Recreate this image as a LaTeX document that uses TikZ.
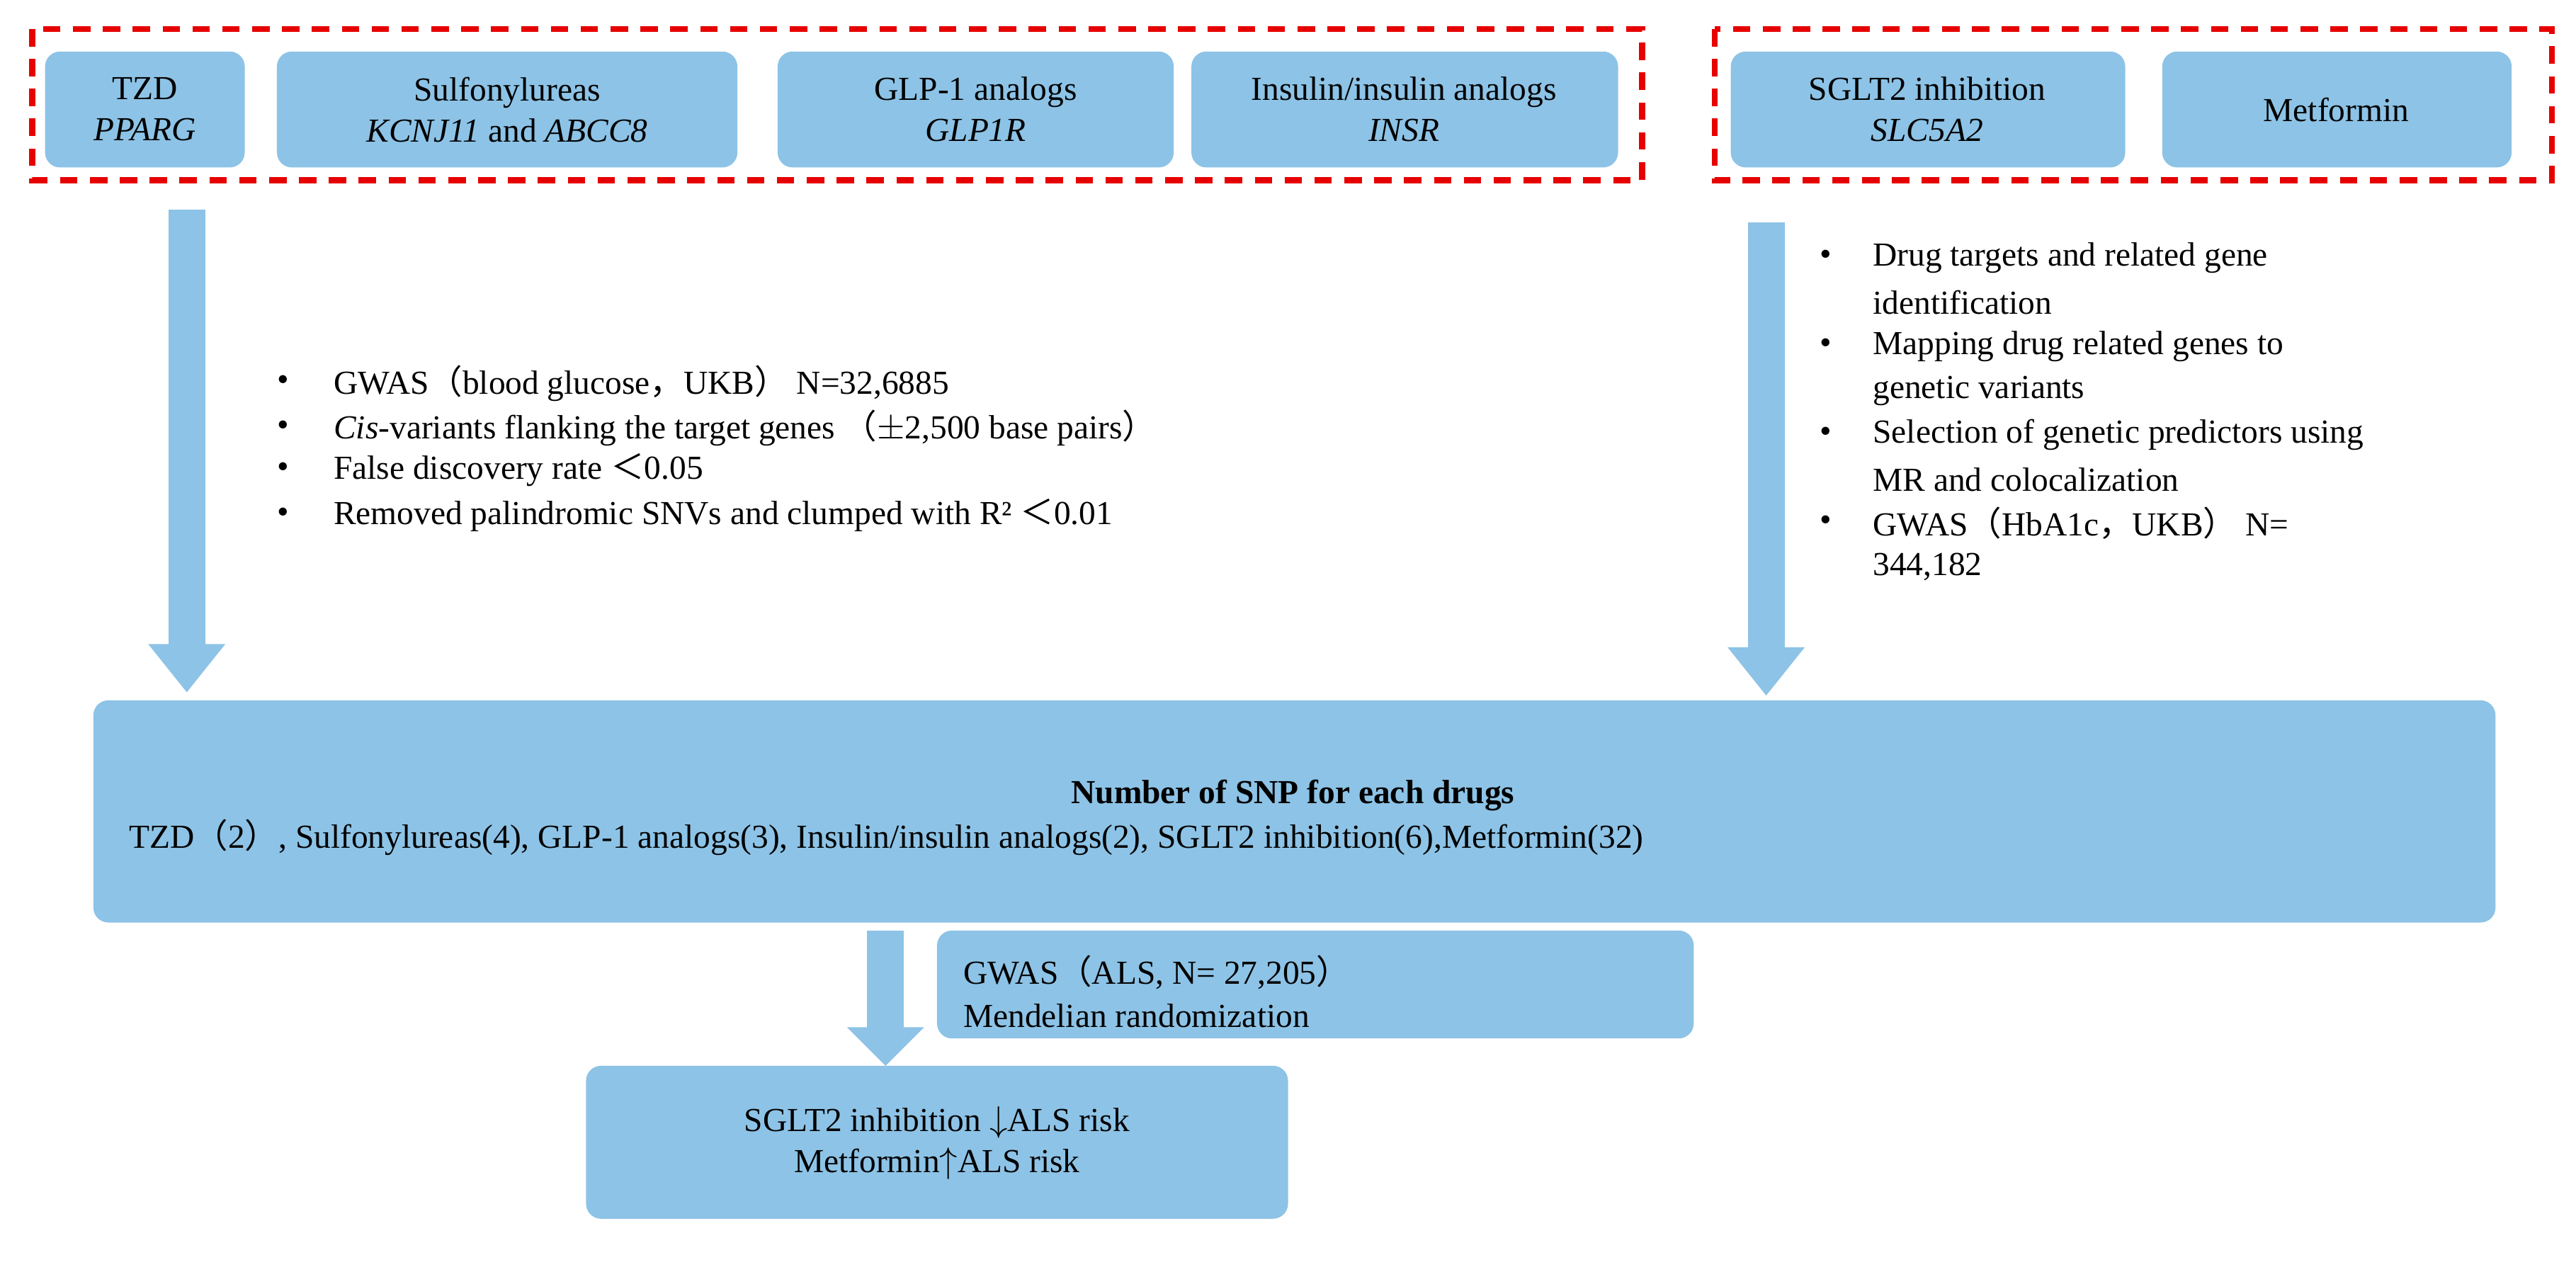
\documentclass[tikz,border=0pt]{standalone}
\usepackage{fontspec}
\setmainfont{Liberation Serif}
\newfontfamily\cjk{Noto Sans CJK SC}
\usetikzlibrary{positioning}
\definecolor{boxblue}{RGB}{141,195,230}
\definecolor{dashred}{RGB}{230,0,0}
\newcommand{\fw}[1]{{\cjk #1}}
\begin{document}
\begin{tikzpicture}[x=0.02273cm,y=-0.02273cm,font=\rmfamily\fontsize{13.5}{16.5}\selectfont,
    drug/.style={fill=boxblue,draw=none,rounded corners=6pt},
    lbl/.style={align=center},
    group/.style={draw=dashred,line width=2.5pt,dash pattern=on 7pt off 5pt},
    flow/.style={boxblue,line width=0.52cm},
    head/.style={fill=boxblue,draw=none}]
    \useasboundingbox (0,0) rectangle (1600,790);
    % drug groups
    \draw[group] (20,18) rectangle (1020,112);
    \draw[group] (1065,18) rectangle (1585,112);
    \path[drug] (28,32) rectangle (152,104);
    \node[lbl] (TZD) at (90,68) {TZD\\\textit{PPARG}};
    \path[drug] (172,32) rectangle (458,104);
    \node[lbl] (SU) at (315,68) {Sulfonylureas\\\textit{KCNJ11} and \textit{ABCC8}};
    \path[drug] (483,32) rectangle (729,104);
    \node[lbl] (GLP) at (606,68) {GLP-1 analogs\\\textit{GLP1R}};
    \path[drug] (740,32) rectangle (1005,104);
    \node[lbl] (INS) at (872,68) {Insulin/insulin analogs\\\textit{INSR}};
    \path[drug] (1075,32) rectangle (1320,104);
    \node[lbl] (SGLT) at (1197,68) {SGLT2 inhibition\\\textit{SLC5A2}};
    \path[drug] (1343,32) rectangle (1560,104);
    \node[lbl] (MET) at (1451,68) {Metformin};
    % arrows
    \coordinate (L1) at (116,130); \coordinate (L2) at (116,402);
    \draw[flow] (L1) -- (L2);
    \path[head] (92,400) -- (140,400) -- (116,430) -- cycle;
    \coordinate (R1) at (1097,138); \coordinate (R2) at (1097,404);
    \draw[flow] (R1) -- (R2);
    \path[head] (1073,402) -- (1121,402) -- (1097,432) -- cycle;
    \coordinate (M1) at (550,578); \coordinate (M2) at (550,640);
    \draw[flow] (M1) -- (M2);
    \path[head] (526,638) -- (574,638) -- (550,662) -- cycle;
    % bullets left
    \foreach \y/\t in {238/{GWAS\fw{（}blood glucose\fw{，}UKB\fw{）} N=32,6885},
        266/{\textit{Cis}-variants flanking the target genes \fw{（}$\pm$2,500 base pairs\fw{）}},
        292/{False discovery rate \fw{＜}0.05},
        320/{Removed palindromic SNVs and clumped with R² \fw{＜}0.01}}
      {\node[anchor=west,inner sep=0pt] at (172,\y) {\textbullet};
       \node[anchor=west,inner sep=0pt] at (207,\y) {\t};}
    % bullets right
    \foreach \y in {160,215,270,325}
      \node[anchor=west,inner sep=0pt] at (1130,\y) {\textbullet};
    \foreach \y/\t in {160/{Drug targets and related gene},188/{identification},
        215/{Mapping drug related genes to},243/{genetic variants},
        270/{Selection of genetic predictors using},298/{MR and colocalization},
        325/{GWAS\fw{（}HbA1c\fw{，}UKB\fw{）} N=},352/{344,182}}
      \node[anchor=west,inner sep=0pt] at (1163,\y) {\t};
    % SNP counts
    \path[drug] (58,435) rectangle (1550,573);
    \node (SNPT) at (803,494) {\textbf{Number of SNP for each drugs}};
    \node[anchor=west,inner sep=0pt] (SNP) at (80,520) {TZD\fw{（}2\fw{）}, Sulfonylureas(4), GLP-1 analogs(3), Insulin/insulin analogs(2), SGLT2 inhibition(6),Metformin(32)};
    % MR
    \path[drug] (582,578) rectangle (1052,645);
    \node[anchor=west,inner sep=0pt] (GW) at (598,604) {GWAS\fw{（}ALS, N= 27,205\fw{）}};
    \node[anchor=west,inner sep=0pt] (MR) at (598,631) {Mendelian randomization};
    \path[drug] (364,662) rectangle (800,757);
    \node[lbl] (RES) at (582,710) {SGLT2 inhibition $\downarrow$ALS risk\\Metformin$\uparrow$ALS risk};
\end{tikzpicture}
\end{document}
